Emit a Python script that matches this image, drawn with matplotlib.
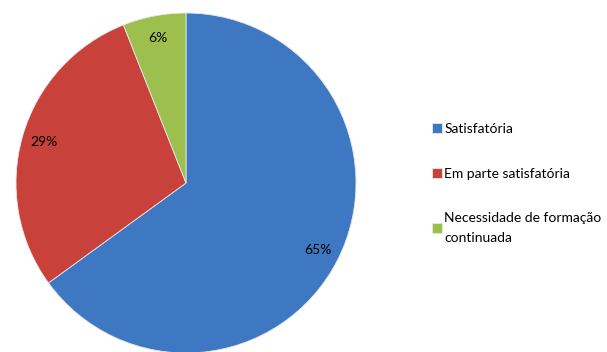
import matplotlib.pyplot as plt

labels = ['Satisfatória', 'Em parte satisfatória', 'Necessidade de formação\ncontinuada']
valores = [65, 29, 6]
cores = ['#3f78c2', '#c8413b', '#9cbf4e']

plt.rcParams['font.family'] = ['Lato', 'DejaVu Sans']

fig = plt.figure(figsize=(6.07, 3.52), dpi=100)
ax = fig.add_axes([16 / 607, -1 / 352, 340 / 607, 340 / 352])

fatias, textos, pcts = ax.pie(valores, colors=cores, startangle=90, counterclock=False,
                               autopct='%1.0f%%', pctdistance=0.87,
                               wedgeprops=dict(edgecolor='#e8e8e8', linewidth=0.6),
                               textprops=dict(fontsize=10, color='black'))
ax.set_xlim(-1, 1)
ax.set_ylim(-1, 1)
ax.set_aspect('equal')

leg = fig.legend(fatias, labels, loc='upper left', bbox_to_anchor=(425 / 607, 1 - 116 / 352),
                 frameon=False, fontsize=10, handlelength=0.7, handleheight=0.7,
                 handletextpad=0.2, labelspacing=2.35, borderpad=0)
for t in leg.get_texts():
    t.set_linespacing(1.75)

fig.savefig('out.png', dpi=100)
